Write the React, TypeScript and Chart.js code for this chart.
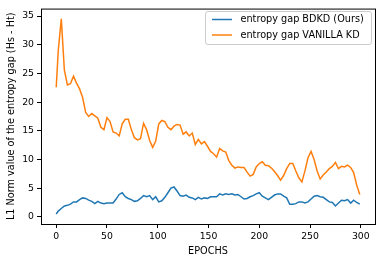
import React, { useEffect, useRef } from "react";
import { Chart, registerables } from "chart.js";

Chart.register(...registerables);

const epochs = [
  0, 2, 5, 8, 11, 14, 17, 20, 23, 26, 29, 32, 35, 38, 41, 44, 47, 50, 53, 56,
  59, 62, 65, 68, 71, 74, 77, 80, 83, 86, 89, 92, 95, 98, 101, 104, 107, 110,
  113, 116, 119, 122, 125, 128, 131, 134, 137, 140, 143, 146, 149, 152, 155,
  158, 161, 164, 167, 170, 173, 176, 179, 182, 185, 188, 191, 194, 197, 200,
  203, 206, 209, 212, 215, 218, 221, 224, 227, 230, 233, 236, 239, 242, 245,
  248, 251, 254, 257, 260, 263, 266, 269, 272, 275, 278, 281, 284, 287, 290,
  293, 296, 299,
];

const bdkd = [
  0.5, 1.0, 1.45, 1.9, 2.0, 2.2, 2.6, 2.6, 3.0, 3.3, 3.2, 2.9, 2.7, 2.3, 2.7,
  2.4, 2.3, 2.4, 2.4, 2.4, 3.1, 3.9, 4.2, 3.5, 3.2, 3.0, 2.7, 2.8, 3.2, 3.7,
  3.5, 3.7, 3.0, 3.5, 2.6, 2.8, 3.4, 4.2, 5.0, 5.2, 4.5, 3.7, 3.6, 3.8, 3.4,
  3.3, 3.0, 3.4, 3.1, 3.3, 3.2, 3.5, 3.5, 3.5, 4.0, 3.8, 4.0, 3.9, 4.0, 3.8,
  3.9, 3.5, 3.1, 3.2, 3.5, 3.7, 4.0, 4.2, 3.6, 3.3, 3.0, 3.4, 3.8, 4.0, 4.0,
  3.6, 3.3, 2.2, 2.2, 2.3, 2.6, 2.6, 2.4, 2.6, 3.1, 3.6, 3.7, 3.5, 3.4, 3.0,
  2.6, 2.5, 1.9, 2.4, 2.9, 2.8, 3.0, 2.4, 2.9, 2.5, 2.2,
];

const vanilla = [
  22.6, 29.0, 34.5, 25.6, 23.0, 23.2, 24.5, 23.3, 22.3, 20.8, 18.2, 17.5, 18.0,
  17.6, 17.2, 15.6, 15.2, 17.3, 16.6, 14.8, 14.6, 14.1, 16.2, 17.0, 17.0, 15.2,
  13.8, 13.4, 13.6, 16.3, 15.2, 13.3, 12.1, 13.2, 16.2, 16.8, 16.6, 15.6, 15.2,
  15.8, 16.1, 16.0, 14.4, 14.8, 14.1, 14.6, 12.6, 13.5, 12.7, 13.1, 12.3, 11.4,
  11.0, 10.4, 11.9, 11.5, 11.3, 9.8, 9.0, 8.5, 8.7, 8.6, 8.6, 7.8, 7.1, 7.4,
  8.7, 9.3, 9.6, 9.0, 8.9, 8.5, 7.9, 7.2, 6.4, 7.2, 8.4, 9.3, 9.3, 8.0, 6.8,
  6.1, 8.0, 10.3, 11.4, 10.0, 8.0, 6.6, 7.3, 7.8, 8.4, 8.8, 9.5, 8.4, 8.8, 8.7,
  9.0, 8.6, 7.7, 5.5, 3.9,
];

const seriesLabels = ["entropy gap BDKD (Ours)", "entropy gap VANILLA KD"];
const seriesColors = ["#1f77b4", "#ff7f0e"];
const xTicks = [0, 50, 100, 150, 200, 250, 300];
const yTicks = [0, 5, 10, 15, 20, 25, 30, 35];
const xTitle = "EPOCHS";
const yTitle = "L1 Norm value of the entropy gap (Hs - Ht)";

const FONT = "'DejaVu Sans', sans-serif";

const framePlugin = {
  id: "frameAndLegend",
  afterDraw(chart: any) {
    const { ctx, chartArea: a } = chart;
    ctx.save();
    ctx.strokeStyle = "#000";
    ctx.lineWidth = 1;
    ctx.strokeRect(a.left + 0.5, a.top + 0.5, a.right - a.left, a.bottom - a.top);

    // legend box (upper right)
    const bx = 205.5;
    const by = 11.5;
    const bw = 166;
    const bh = 33;
    ctx.beginPath();
    if (ctx.roundRect) ctx.roundRect(bx, by, bw, bh, 2.5);
    else ctx.rect(bx, by, bw, bh);
    ctx.fillStyle = "rgba(255,255,255,0.8)";
    ctx.fill();
    ctx.strokeStyle = "#cccccc";
    ctx.lineWidth = 1;
    ctx.stroke();

    const rows = [19.5, 35];
    chart.data.datasets.forEach((ds: any, i: number) => {
      const y = rows[i];
      ctx.beginPath();
      ctx.strokeStyle = ds.borderColor;
      ctx.lineWidth = 1.5;
      ctx.moveTo(212, y);
      ctx.lineTo(232, y);
      ctx.stroke();
      ctx.fillStyle = "#000";
      ctx.font = `9.7px ${FONT}`;
      ctx.textBaseline = "middle";
      ctx.textAlign = "left";
      ctx.fillText(ds.label, 240.5, y);
    });
    ctx.restore();
  },
};

export default function App() {
  const ref = useRef<HTMLCanvasElement | null>(null);

  useEffect(() => {
    document.body.style.margin = "0";
    const canvas = ref.current;
    if (!canvas) return;

    const makeData = (vals: number[]) => epochs.map((e, i) => ({ x: e, y: vals[i] }));

    const tickFont = { family: FONT, size: 9.3 };
    const titleFont = { family: FONT, size: 9.7 };
    const gridOpts = {
      display: true,
      drawOnChartArea: false,
      drawTicks: true,
      tickLength: 4,
      color: "#000",
      lineWidth: 1,
    };

    const chart = new Chart(canvas, {
      type: "line",
      data: {
        datasets: [
          {
            label: seriesLabels[0],
            data: makeData(bdkd),
            borderColor: seriesColors[0],
            backgroundColor: seriesColors[0],
            borderWidth: 1.5,
            pointRadius: 0,
            tension: 0,
          },
          {
            label: seriesLabels[1],
            data: makeData(vanilla),
            borderColor: seriesColors[1],
            backgroundColor: seriesColors[1],
            borderWidth: 1.5,
            pointRadius: 0,
            tension: 0,
          },
        ],
      },
      options: {
        animation: false,
        responsive: false,
        maintainAspectRatio: false,
        layout: { padding: { left: 0, top: 6, right: 7, bottom: 0 } },
        plugins: {
          legend: { display: false },
          tooltip: { enabled: false },
        },
        scales: {
          x: {
            type: "linear",
            min: -15,
            max: 314,
            afterBuildTicks: (s: any) => {
              s.ticks = xTicks.map((v) => ({ value: v }));
            },
            afterFit: (s: any) => {
              s.height = 38;
            },
            grid: gridOpts,
            border: { display: false },
            ticks: {
              color: "#000",
              font: tickFont,
              padding: 3,
              maxRotation: 0,
              autoSkip: false,
            },
            title: {
              display: true,
              text: xTitle,
              color: "#000",
              font: titleFont,
              padding: { top: 0, bottom: 5 },
            },
          },
          y: {
            type: "linear",
            min: -1.25,
            max: 36.3,
            afterBuildTicks: (s: any) => {
              s.ticks = yTicks.map((v) => ({ value: v }));
            },
            afterFit: (s: any) => {
              s.width = 41;
            },
            grid: gridOpts,
            border: { display: false },
            ticks: {
              color: "#000",
              font: tickFont,
              padding: 3,
              autoSkip: false,
            },
            title: {
              display: true,
              text: yTitle,
              color: "#000",
              font: titleFont,
              padding: { top: 6, bottom: 0 },
            },
          },
        },
      } as any,
      plugins: [framePlugin],
    });

    return () => chart.destroy();
  }, []);

  return (
    <div style={{ width: 382, height: 262 }}>
      <canvas ref={ref} width={382} height={262} style={{ display: "block" }} />
    </div>
  );
}
